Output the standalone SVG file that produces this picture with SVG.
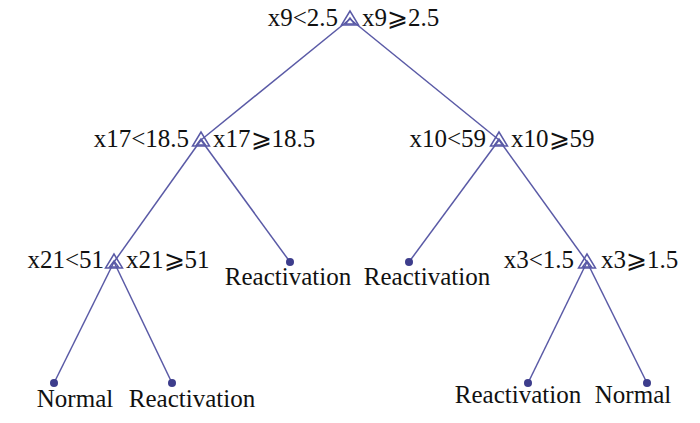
<svg xmlns="http://www.w3.org/2000/svg" width="700" height="423" viewBox="0 0 700 423">
<style>
.e{stroke:#5a5aa6;stroke-width:1.5;fill:none}
.t{stroke:#5a5aa6;stroke-width:1.5;fill:none}
.d{fill:#3d3d8c}
text{font-family:"Liberation Serif","DejaVu Serif","Times New Roman",serif;font-size:25px;fill:#111}
.r{text-anchor:end}
.m{text-anchor:middle}
</style>
<defs>
<g id="tri"><path class="t" d="M0,-8 L-8.5,6 L8.5,6 Z"/><path class="t" d="M0,-1 L-4.5,5 L4.5,5 Z"/></g>
</defs>
<rect width="700" height="423" fill="#fff"/>
<g id="connectors">
<line class="e" x1="350" y1="19" x2="201" y2="140"/>
<line class="e" x1="350" y1="19" x2="499" y2="140"/>
<line class="e" x1="201" y1="140" x2="114" y2="262"/>
<line class="e" x1="201" y1="140" x2="290" y2="262"/>
<line class="e" x1="499" y1="140" x2="409" y2="262"/>
<line class="e" x1="499" y1="140" x2="587" y2="262"/>
<line class="e" x1="114" y1="262" x2="54" y2="383"/>
<line class="e" x1="114" y1="262" x2="172" y2="383"/>
<line class="e" x1="587" y1="262" x2="528" y2="383"/>
<line class="e" x1="587" y1="262" x2="647" y2="383"/>
</g>
<g id="n-root"><use href="#tri" x="350" y="19"/><text class="r" x="338" y="26">x9&lt;2.5</text><text x="362" y="26">x9⩾2.5</text></g>
<g id="n-x17"><use href="#tri" x="201" y="140"/><text class="r" x="189" y="147">x17&lt;18.5</text><text x="213" y="147">x17⩾18.5</text></g>
<g id="n-x10"><use href="#tri" x="499" y="140"/><text class="r" x="486" y="147">x10&lt;59</text><text x="511" y="147">x10⩾59</text></g>
<g id="n-x21"><use href="#tri" x="114" y="262"/><text class="r" x="104" y="268">x21&lt;51</text><text x="126" y="268">x21⩾51</text></g>
<g id="n-x3"><use href="#tri" x="587" y="262"/><text class="r" x="574" y="268">x3&lt;1.5</text><text x="601" y="268">x3⩾1.5</text></g>
<g id="l-1"><circle class="d" cx="290" cy="262" r="4"/><text class="m" x="288" y="285">Reactivation</text></g>
<g id="l-2"><circle class="d" cx="409" cy="262" r="4"/><text class="m" x="427" y="285">Reactivation</text></g>
<g id="l-3"><circle class="d" cx="54" cy="383" r="4"/><text class="m" x="75" y="407">Normal</text></g>
<g id="l-4"><circle class="d" cx="172" cy="383" r="4"/><text class="m" x="192" y="407">Reactivation</text></g>
<g id="l-5"><circle class="d" cx="528" cy="383" r="4"/><text class="m" x="518" y="403">Reactivation</text></g>
<g id="l-6"><circle class="d" cx="647" cy="383" r="4"/><text class="m" x="633" y="403">Normal</text></g>
</svg>
